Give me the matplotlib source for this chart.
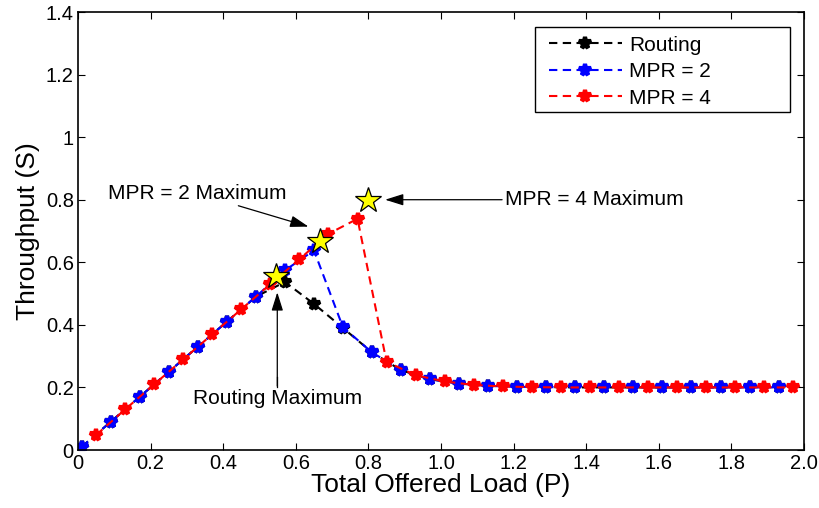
import matplotlib
matplotlib.use("Agg")
import matplotlib.pyplot as plt
from matplotlib.patches import Rectangle
import numpy as np

plt.rcParams['font.family'] = ['Liberation Sans', 'DejaVu Sans']

# Offered load values (P)
load_blue = [0.01, 0.09, 0.17, 0.25, 0.33, 0.41, 0.49, 0.57, 0.65, 0.73, 0.81, 0.89,
             0.97, 1.05, 1.13, 1.21, 1.29, 1.37, 1.45, 1.53, 1.61, 1.69, 1.77, 1.85, 1.93]
load_red = [0.05, 0.13, 0.21, 0.29, 0.37, 0.45, 0.53, 0.61, 0.69, 0.77, 0.85, 0.93,
            1.01, 1.09, 1.17, 1.25, 1.33, 1.41, 1.49, 1.57, 1.65, 1.73, 1.81, 1.89, 1.97]

thr_routing = [0.01, 0.09, 0.17, 0.25, 0.33, 0.41, 0.49, 0.537, 0.467, 0.39, 0.312, 0.255,
               0.226, 0.2125, 0.205, 0.202, 0.201, 0.2, 0.2, 0.2, 0.2, 0.2, 0.2, 0.2, 0.2]
thr_mpr2 = [0.01, 0.09, 0.17, 0.25, 0.33, 0.41, 0.49, 0.574, 0.638, 0.392, 0.312, 0.255,
            0.226, 0.2125, 0.205, 0.202, 0.201, 0.2, 0.2, 0.2, 0.2, 0.2, 0.2, 0.2, 0.2]
thr_mpr4 = [0.048, 0.13, 0.21, 0.29, 0.37, 0.45, 0.53, 0.61, 0.691, 0.739, 0.282, 0.239,
            0.219, 0.208, 0.203, 0.201, 0.2, 0.2, 0.2, 0.2, 0.2, 0.2, 0.2, 0.2, 0.2]

series_labels = ["Routing", "MPR = 2", "MPR = 4"]
series_colors = ["black", "blue", "red"]

max_x = [0.545, 0.667, 0.80]
max_y = [0.557, 0.667, 0.80]

xticks = [0, 0.2, 0.4, 0.6, 0.8, 1.0, 1.2, 1.4, 1.6, 1.8, 2.0]
xticklabels = ["0", "0.2", "0.4", "0.6", "0.8", "1.0", "1.2", "1.4", "1.6", "1.8", "2.0"]
yticks = [0, 0.2, 0.4, 0.6, 0.8, 1.0, 1.2, 1.4]
yticklabels = ["0", "0.2", "0.4", "0.6", "0.8", "1", "1.2", "1.4"]

fig = plt.figure(figsize=(8.2, 5.08), dpi=100)
ax = fig.add_axes([78/820, 1-450/508, (804-78)/820, (450-12)/508])

xs = [load_blue, load_blue, load_red]
ys = [thr_routing, thr_mpr2, thr_mpr4]
for x, y, c, lab in zip(xs, ys, series_colors, series_labels):
    ax.plot(x, y, linestyle=(0, (4, 2.6)), color=c, lw=1.5, marker='*',
            markersize=8.5, markeredgewidth=3.0, label=lab)

ax.plot(max_x, max_y, linestyle='none', marker='*', markersize=19,
        markerfacecolor='yellow', markeredgecolor='black', markeredgewidth=0.9, zorder=5)

ax.set_xlim(0, 2.0)
ax.set_ylim(0, 1.4)
ax.set_xticks(xticks)
ax.set_xticklabels(xticklabels)
ax.set_yticks(yticks)
ax.set_yticklabels(yticklabels)
ax.tick_params(direction='in', top=True, right=True, labelsize=14.5, length=5,
               width=0.8, pad=3)
for s in ax.spines.values():
    s.set_linewidth(1.2)

ax.set_xlabel("Total Offered Load (P)", fontsize=19, labelpad=0)
ax.set_ylabel("Throughput (S)", fontsize=19, labelpad=4)

arrow = dict(arrowstyle='-|>,head_length=0.7,head_width=0.22', color='black', lw=0.9,
             shrinkA=0, shrinkB=0, mutation_scale=16)
ax.annotate("MPR = 2 Maximum", xy=(0.635, 0.714), xytext=(0.574, 0.82),
            arrowprops=arrow, fontsize=15, ha='right', va='center')
ax.annotate("MPR = 4 Maximum", xy=(0.846, 0.80), xytext=(1.176, 0.80),
            arrowprops=arrow, fontsize=15, ha='left', va='center')
ax.annotate("Routing Maximum", xy=(0.549, 0.504), xytext=(0.549, 0.165),
            arrowprops=arrow, fontsize=15, ha='center', va='center')
ax.plot([0.549, 0.549], [0.2, 0.232], color='black', lw=0.9)

# legend box (matlab-style wide frame)
bx0, bx1 = (535-78)/726, (790-78)/726
by0, by1 = (450-112)/438, (450-27)/438
ax.add_patch(Rectangle((bx0, by0), bx1-bx0, by1-by0, transform=ax.transAxes,
                       facecolor='white', edgecolor='black', lw=1.0, zorder=6))
leg = ax.legend(loc='center left', fontsize=15, frameon=False,
                handlelength=3.5, handletextpad=0.35, borderpad=0,
                labelspacing=0.36, bbox_to_anchor=((549-78)/726, (by0+by1)/2 - 0.005),
                borderaxespad=0)
leg.set_zorder(7)

fig.savefig("out.png", dpi=100)
